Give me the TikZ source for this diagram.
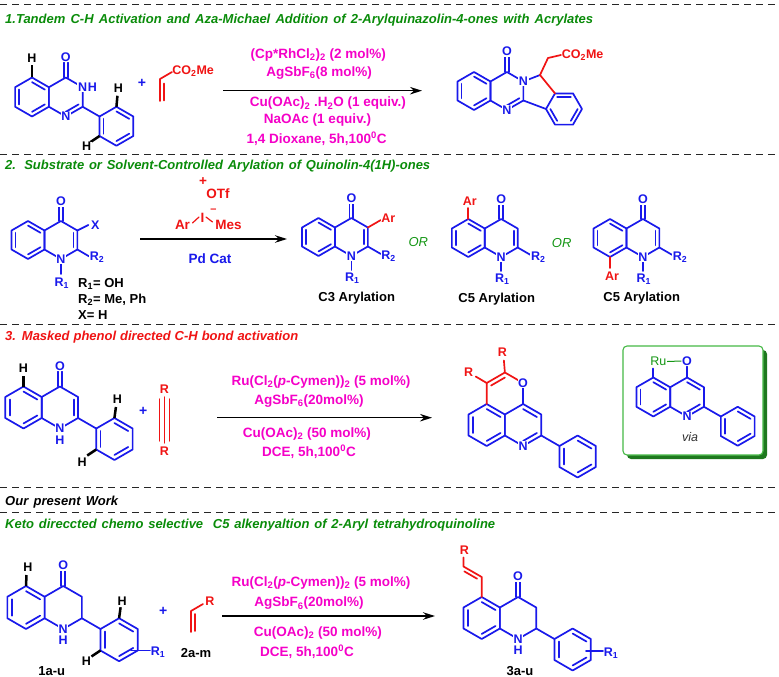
\documentclass[tikz,border=0pt]{standalone}
\usepackage{fontspec}
\setmainfont{Liberation Sans}
\usetikzlibrary{calc,arrows.meta}
\definecolor{chb}{RGB}{25,25,235}
\definecolor{chr}{RGB}{240,20,20}
\definecolor{chm}{RGB}{245,0,200}
\definecolor{hg}{RGB}{10,140,10}
\definecolor{org}{RGB}{20,150,20}
\definecolor{boxg}{RGB}{70,185,70}
\definecolor{shadg}{RGB}{30,120,30}
\newcommand\hexP[4]{%
 \coordinate (#1) at (#2,#3);
 \coordinate (#1T) at (#2,{#3-#4});
 \coordinate (#1UR) at ({#2+0.8660254*#4},{#3-0.5*#4});
 \coordinate (#1LR) at ({#2+0.8660254*#4},{#3+0.5*#4});
 \coordinate (#1B) at (#2,{#3+#4});
 \coordinate (#1LL) at ({#2-0.8660254*#4},{#3+0.5*#4});
 \coordinate (#1UL) at ({#2-0.8660254*#4},{#3-0.5*#4});}
\newcommand\hexdraw[1]{\draw[bnd] (#1T)--(#1UR)--(#1LR)--(#1B)--(#1LL)--(#1UL)--cycle;}
\newcommand\inb[4][bnd]{\draw[#1] ($(#2)!0.76!(#2#3)$)--($(#2)!0.76!(#2#4)$);}
\newcommand\cdo[2]{\draw[bnd] ($(#1)+(-1.9,0)$)--++(0,-#2); \draw[bnd] ($(#1)+(1.9,0)$)--++(0,-#2);}
\newcommand\hdtext[2]{\makebox[#1][s]{#2}}
\begin{document}
\begin{tikzpicture}[x=1pt,y=-1pt,
  bnd/.style={line width=1.7pt, draw=chb, line join=round, line cap=round},
  rbnd/.style={bnd, draw=chr},
  hbnd/.style={line width=2.5pt, draw=black},
  atom/.style={text=chb, fill=white, inner sep=0.7pt, font=\bfseries\fontsize{12.5}{13}\selectfont},
  ratom/.style={atom, text=chr},
  hatom/.style={atom, text=black},
  iodtxt/.style={text=chr, inner sep=0pt, font=\bfseries\fontsize{13.5}{14}\selectfont},
  reag/.style={text=chm, inner sep=0pt, font=\bfseries\fontsize{13.5}{14}\selectfont},
  headtxt/.style={anchor=west, inner sep=0pt, font=\bfseries\itshape\fontsize{13}{14}\selectfont},
  captxt/.style={inner sep=0pt, font=\bfseries\fontsize{13}{14}\selectfont},
  ortxt/.style={text=org, inner sep=0pt, font=\itshape\fontsize{13}{14}\selectfont},
  plus/.style={text=chb, inner sep=0pt, font=\bfseries\fontsize{14}{14}\selectfont},
  dashline/.style={line width=0.9pt, draw=black!85, dash pattern=on 6.5pt off 5.5pt},
  arr/.style={line width=1.3pt, -{Stealth[length=12pt,width=7.5pt]}}
]
\useasboundingbox (0,0) rectangle (779,677);
\fill[white] (0,0) rectangle (779,677);
% dashed separators
\draw[dashline] (0,4)--(779,4);
\draw[dashline] (0,154)--(779,154);
\draw[dashline] (0,324)--(779,324);
\draw[dashline] (0,487)--(779,487);
\draw[dashline] (0,512)--(779,512);
% headings
\node[headtxt, text=hg] (hd1) at (5,20) {\hdtext{588pt}{1.Tandem C-H Activation and Aza-Michael Addition of 2-Arylquinazolin-4-ones with Acrylates}};
\node[headtxt, text=hg] (hd2) at (5,166) {\hdtext{425pt}{2. Substrate or Solvent-Controlled Arylation of Quinolin-4(1H)-ones}};
\node[headtxt, text=chr] (hd3) at (5,337) {\hdtext{293pt}{3. Masked phenol directed C-H bond activation}};
\node[headtxt, text=black] (hd4) at (5,502) {\hdtext{113pt}{Our present Work}};
\node[headtxt, text=hg] (hd5) at (5,525) {\hdtext{490pt}{Keto direccted chemo selective \ C5 alkenyaltion of 2-Aryl tetrahydroquinoline}};

% ===== Section 1 reactant
\hexP{qa}{32}{97}{19.5}
\hexP{qb}{65.77}{97}{19.5}
\hexP{qc}{116.43}{126.25}{19.5}
\hexdraw{qa}\hexdraw{qb}\hexdraw{qc}
\inb{qa}{UL}{LL}\inb{qa}{T}{UR}\inb{qa}{LR}{B}
\inb{qb}{LR}{B}
\inb{qc}{UL}{LL}\inb{qc}{T}{UR}\inb{qc}{LR}{B}
\draw[bnd] (qbLR)--(qcUL);
\cdo{qbT}{15}
\draw[hbnd] (qaT)--++(0,-12);
\draw[hbnd] (qcT)--++(1,-11);
\draw[hbnd] (qcLL)--++(-9,6);
\node[atom] (o1) at ($(qbT)+(0,-20.5)$) {O};
\node[atom] (n1) at (qbUR) {N};
\node[atom, anchor=west, inner sep=0.3pt] (n1h) at ([xshift=-0.6pt]n1.east) {H};
\node[atom] (n2) at (qbB) {N};
\node[hatom] (h1) at ($(qaT)+(0,-19.5)$) {H};
\node[hatom] (h2) at ($(qcT)+(2,-18.5)$) {H};
\node[hatom] (h3) at ($(qcLL)+(-13,10.5)$) {H};
\node[plus] (p1) at (142,83) {+};
% acrylate
\coordinate (acA) at (160,101); \coordinate (acB) at (160,79); \coordinate (acC) at (172,72);
\draw[rbnd] (acA)--(acB)--(acC);
\draw[rbnd] (164,100.5)--(164,83.5);
\node[ratom, anchor=west, fill=none] (co1) at (171.5,71) {CO\textsubscript{2}Me};
% conditions 1
\node[reag] (r1a) at (318.3,55) {(Cp*RhCl\textsubscript{2})\textsubscript{2} (2 mol\%)};
\node[reag] (r1b) at (319.2,73.3) {AgSbF\textsubscript{6}(8 mol\%)};
\coordinate (a1s) at (223,90.7); \coordinate (a1e) at (422,90.7);
\draw[arr] (a1s)--(a1e);
\node[reag] (r1c) at (327.8,103.5) {Cu(OAc)\textsubscript{2} .H\textsubscript{2}O (1 equiv.)};
\node[reag] (r1d) at (317.5,120.5) {NaOAc (1 equiv.)};
\node[reag] (r1e) at (316.7,138.5) {1,4 Dioxane, 5h,100\textsuperscript{0}C};
% product 1
\hexP{pa}{474}{91}{19}
\hexP{pb}{506.91}{91}{19}
\hexdraw{pa}\hexdraw{pb}
\coordinate (pc) at (564,109);
\coordinate (pc1) at (555,93.4); \coordinate (pc2) at (573,93.4); \coordinate (pc3) at (582,109);
\coordinate (pc4) at (573,124.6); \coordinate (pc5) at (555,124.6); \coordinate (pc6) at (546,109);
\draw[bnd] (pc1)--(pc2)--(pc3)--(pc4)--(pc5)--(pc6)--cycle;
\inb{pa}{UL}{LL}\inb{pa}{T}{UR}\inb{pa}{LR}{B}
\inb{pb}{LR}{B}
\inb{pc}{1}{2}\inb{pc}{3}{4}\inb{pc}{5}{6}
\coordinate (pch) at (540,75); \coordinate (pch2) at (548,58);
\draw[bnd] (pbUR)--(pch);
\draw[bnd] (pbLR)--(pc6);
\draw[rbnd] (pch)--(pc1);
\cdo{pbT}{15}
\node[ratom, anchor=west, fill=none] (co2) at (561,55) {CO\textsubscript{2}Me};
\draw[rbnd] (pch)--(pch2)--(co2.west);
\node[atom] (o2) at ($(pbT)+(0,-20.5)$) {O};
\node[atom] (n3) at (pbUR) {N};
\node[atom] (n4) at (pbB) {N};

% ===== Section 2 reactant
\hexP{sa}{28}{240}{19}
\hexP{sb}{60.91}{240}{19}
\hexdraw{sa}\hexdraw{sb}
\inb{sa}{UL}{LL}\inb{sa}{T}{UR}\inb{sa}{LR}{B}
\inb{sb}{UR}{LR}
\cdo{sbT}{15}
\draw[bnd] (sbUR)--++(11,-5.5);
\draw[bnd] (sbLR)--++(12,7);
\draw[bnd] (sbB)--++(0,15);
\node[atom] (o3) at ($(sbT)+(0,-19.5)$) {O};
\node[atom] (x1) at ($(sbUR)+(18,-5.5)$) {X};
\node[atom, anchor=west] (r21) at ($(sbLR)+(11.5,8)$) {R\textsubscript{2}};
\node[atom] (n5) at (sbB) {N};
\node[atom] (r11) at ($(sbB)+(1,24)$) {R\textsubscript{1}};
\node[captxt, anchor=west] (t21) at (78,284) {R\textsubscript{1}= OH};
\node[captxt, anchor=west] (t22) at (78,300) {R\textsubscript{2}= Me, Ph};
\node[captxt, anchor=west] (t23) at (78,315.5) {X= H};
% reagent 2
\node[iodtxt] (ar1) at (182.5,225) {Ar};
\node[iodtxt] (io1) at (202.5,218) {I};
\node[iodtxt] (me1) at (228.5,225) {Mes};
\node[iodtxt] (ot1) at (218,194) {OTf};
\node[iodtxt] (pl2) at (203,181.5) {+};
\node[iodtxt, font=\bfseries\fontsize{11}{11}\selectfont] (mi2) at (213.5,211) {--};
\draw[rbnd, line width=1.2pt] (192.5,223)--(199,217);
\draw[rbnd, line width=1.2pt] (206,217)--(212.5,222);
\coordinate (a2s) at (140,239); \coordinate (a2e) at (287,239);
\draw[arr] (a2s)--(a2e);
\node[reag, text=chb] (pd) at (210,258.5) {Pd Cat};
% C3 product
\hexP{ta}{318.5}{237}{19}
\hexP{tb}{351.41}{237}{19}
\hexdraw{ta}\hexdraw{tb}
\inb{ta}{UL}{LL}\inb{ta}{T}{UR}\inb{ta}{LR}{B}
\inb{tb}{UR}{LR}
\cdo{tbT}{15}
\draw[rbnd] (tbUR)--++(13,-7.5);
\draw[bnd] (tbLR)--++(13,7.5);
\draw[bnd] (tbB)--++(0,14);
\node[atom] (o4) at ($(tbT)+(0,-19.5)$) {O};
\node[ratom, anchor=west] (ar2) at ($(tbUR)+(12.5,-9)$) {Ar};
\node[atom, anchor=west] (r22) at ($(tbLR)+(12.5,9.5)$) {R\textsubscript{2}};
\node[atom] (n6) at (tbB) {N};
\node[atom] (r12) at ($(tbB)+(1,22.5)$) {R\textsubscript{1}};
\node[captxt] (c3) at (356.7,298.3) {C3 Arylation};
\node[ortxt] (or1) at (418.3,241.7) {OR};
% C5 product
\hexP{ua}{468.3}{238}{19}
\hexP{ub}{501.21}{238}{19}
\hexdraw{ua}\hexdraw{ub}
\inb{ua}{UL}{LL}\inb{ua}{T}{UR}\inb{ua}{LR}{B}
\inb{ub}{UR}{LR}
\cdo{ubT}{15}
\draw[rbnd] (uaT)--++(0,-11);
\draw[bnd] (ubLR)--++(13,7.5);
\draw[bnd] (ubB)--++(0,14);
\node[atom] (o5) at ($(ubT)+(0,-19.5)$) {O};
\node[ratom] (ar3) at ($(uaT)+(1.5,-18)$) {Ar};
\node[atom, anchor=west] (r23) at ($(ubLR)+(12.5,9.5)$) {R\textsubscript{2}};
\node[atom] (n7) at (ubB) {N};
\node[atom] (r13) at ($(ubB)+(1,22.5)$) {R\textsubscript{1}};
\node[captxt] (c5a) at (496.7,299.3) {C5 Arylation};
\node[ortxt] (or2) at (561.7,242.7) {OR};
% C8 product
\hexP{va}{610}{238}{19}
\hexP{vb}{642.91}{238}{19}
\hexdraw{va}\hexdraw{vb}
\inb{va}{UL}{LL}\inb{va}{T}{UR}\inb{va}{LR}{B}
\inb{vb}{UR}{LR}
\cdo{vbT}{15}
\draw[rbnd] (vaB)--++(0,11);
\draw[bnd] (vbLR)--++(13,7.5);
\draw[bnd] (vbB)--++(0,14);
\node[atom] (o6) at ($(vbT)+(0,-19.5)$) {O};
\node[ratom] (ar4) at ($(vaB)+(2,19)$) {Ar};
\node[atom, anchor=west] (r24) at ($(vbLR)+(12.5,9.5)$) {R\textsubscript{2}};
\node[atom] (n8) at (vbB) {N};
\node[atom] (r14) at ($(vbB)+(1,22.5)$) {R\textsubscript{1}};
\node[captxt] (c5b) at (641.7,298.3) {C5 Arylation};

% ===== Section 3 reactant
\hexP{wa}{23.5}{407.5}{21}
\hexP{wb}{59.87}{407.5}{21}
\hexP{wc}{114.43}{439}{21}
\hexdraw{wa}\hexdraw{wb}\hexdraw{wc}
\inb{wa}{UL}{LL}\inb{wa}{T}{UR}\inb{wa}{LR}{B}
\inb{wb}{UR}{LR}
\inb{wc}{UL}{LL}\inb{wc}{T}{UR}\inb{wc}{LR}{B}
\draw[bnd] (wbLR)--(wcUL);
\cdo{wbT}{15}
\draw[hbnd] (waT)--++(0,-11);
\draw[hbnd] (wcT)--++(1.5,-11);
\draw[hbnd] (wcLL)--++(-9,6);
\node[atom] (o7) at ($(wbT)+(0,-20.5)$) {O};
\node[atom] (n9) at (wbB) {N};
\node[atom] (n9h) at ($(wbB)+(0,11.5)$) {H};
\node[hatom] (h4) at ($(waT)+(0,-18.5)$) {H};
\node[hatom] (h5) at ($(wcT)+(3,-18.5)$) {H};
\node[hatom] (h6) at ($(wcLL)+(-14,13)$) {H};
\node[plus] (p3) at (143.3,411.7) {+};
\draw[rbnd, line width=1.4pt] (164.3,397)--(164.3,443);
\draw[rbnd, line width=1.4pt] (159.3,399)--(159.3,441);
\draw[rbnd, line width=1.4pt] (169.3,399)--(169.3,441);
\node[ratom] (rt1) at (164.3,389) {R};
\node[ratom] (rb1) at (164.3,451.5) {R};
% conditions 3
\node[reag] (r3a) at (321,381.7) {Ru(Cl\textsubscript{2}(\textit{p}-Cymen))\textsubscript{2} (5 mol\%)};
\node[reag] (r3b) at (309,401.2) {AgSbF\textsubscript{6}(20mol\%)};
\coordinate (a3s) at (217,417.7); \coordinate (a3e) at (432,417.7);
\draw[arr] (a3s)--(a3e);
\node[reag] (r3c) at (307,433.8) {Cu(OAc)\textsubscript{2} (50 mol\%)};
\node[reag] (r3d) at (309,452) {DCE, 5h,100\textsuperscript{0}C};
% product 3
\hexP{xa}{486.7}{425}{21}
\hexP{xb}{523.07}{425}{21}
\hexP{xp}{504.89}{393.5}{21}
\hexP{xc}{577.63}{456.5}{21}
\hexdraw{xa}\hexdraw{xb}\hexdraw{xc}
\inb{xa}{UL}{LL}\inb{xa}{T}{UR}\inb{xa}{LR}{B}
\inb{xb}{T}{UR}\inb{xb}{LR}{B}
\inb{xc}{UL}{LL}\inb{xc}{T}{UR}\inb{xc}{LR}{B}
\draw[bnd] (xbLR)--(xcUL);
\draw[rbnd] (xpLL)--(xpUL)--(xpT)--(xpUR);
\inb[rbnd]{xp}{UL}{T}
\draw[bnd] (xpUR)--(xpLR);
\draw[rbnd] (xpT)--++(-1,-12);
\draw[rbnd] (xpUL)--++(-11,-6.5);
\node[ratom] (rt2) at ($(xpT)+(-2.5,-20)$) {R};
\node[ratom] (rl2) at ($(xpUL)+(-18,-11)$) {R};
\node[atom] (o8) at (xpUR) {O};
\node[atom] (n10) at (xbB) {N};
% via box
\fill[shadg, rounded corners=4pt] (627,350) rectangle (767,459);
\draw[boxg, line width=1.1pt, fill=white, rounded corners=4pt] (623,346) rectangle (763,455);
\hexP{ya}{653.3}{397}{19.5}
\hexP{yb}{687.07}{397}{19.5}
\hexP{yc}{737.73}{426.25}{19.5}
\hexdraw{ya}\hexdraw{yb}\hexdraw{yc}
\inb{ya}{UL}{LL}\inb{ya}{T}{UR}\inb{ya}{LR}{B}
\inb{yb}{T}{UR}\inb{yb}{LR}{B}
\inb{yc}{UL}{LL}\inb{yc}{T}{UR}\inb{yc}{LR}{B}
\draw[bnd] (ybLR)--(ycUL);
\draw[bnd] (ybT)--++(0,-11);
\draw[bnd] (yaT)--++(0,-9);
\node[atom] (o9) at ($(ybT)+(0,-16.5)$) {O};
\node[atom, text=org, font=\fontsize{12.5}{13}\selectfont] (ru) at ($(yaT)+(5,-16)$) {Ru};
\draw[draw=org, line width=1pt] (ru.east)--(o9.west);
\node[atom] (n11) at (ybB) {N};
\node[inner sep=0pt, text=black!80, font=\itshape\fontsize{12.5}{13}\selectfont] (via) at (690,437) {via};

% ===== Section 4 reactant
\hexP{za}{26}{607.5}{21.5}
\hexP{zb}{63.24}{607.5}{21.5}
\hexP{zc}{119.1}{639.75}{21.5}
\hexdraw{za}\hexdraw{zb}\hexdraw{zc}
\inb{za}{UL}{LL}\inb{za}{T}{UR}\inb{za}{LR}{B}
\inb{zc}{UL}{LL}\inb{zc}{T}{UR}\inb{zc}{LR}{B}
\draw[bnd] (zbLR)--(zcUL);
\cdo{zbT}{15}
\draw[hbnd] (zaT)--++(0.5,-11);
\draw[hbnd] (zcT)--++(1.5,-11);
\draw[hbnd] (zcLL)--++(-9,6);
\draw[bnd] (131,650.5)--(150,650.5);
\node[atom] (o10) at ($(zbT)+(0,-20.5)$) {O};
\node[atom] (n12) at (zbB) {N};
\node[atom] (n12h) at ($(zbB)+(0,11.5)$) {H};
\node[hatom] (h7) at ($(zaT)+(2,-18.5)$) {H};
\node[hatom] (h8) at ($(zcT)+(3,-17.5)$) {H};
\node[hatom] (h9) at ($(zcLL)+(-14,11)$) {H};
\node[atom, anchor=west, fill=none] (r15) at (150,652.5) {R\textsubscript{1}};
\node[captxt] (l1) at (51.7,671) {1a-u};
\node[plus] (p4) at (163.3,611.7) {+};
\draw[rbnd] (191,632)--(191,611)--(203,604);
\draw[rbnd] (195,631)--(195,614);
\node[ratom, fill=none] (ra) at (210,601.5) {R};
\node[captxt] (l2) at (196,653) {2a-m};
% conditions 4
\node[reag] (r4a) at (321,583.3) {Ru(Cl\textsubscript{2}(\textit{p}-Cymen))\textsubscript{2} (5 mol\%)};
\node[reag] (r4b) at (309,603.5) {AgSbF\textsubscript{6}(20mol\%)};
\coordinate (a4s) at (222,616); \coordinate (a4e) at (435,616);
\draw[arr] (a4s)--(a4e);
\node[reag] (r4c) at (318,633) {Cu(OAc)\textsubscript{2} (50 mol\%)};
\node[reag] (r4d) at (307,652) {DCE, 5h,100\textsuperscript{0}C};
% product 4
\hexP{ka}{481.7}{618}{21}
\hexP{kb}{518.07}{618}{21}
\hexP{kc}{572.63}{649.5}{21}
\hexdraw{ka}\hexdraw{kb}\hexdraw{kc}
\inb{ka}{UL}{LL}\inb{ka}{T}{UR}\inb{ka}{LR}{B}
\inb{kc}{UL}{LL}\inb{kc}{T}{UR}\inb{kc}{LR}{B}
\draw[bnd] (kbLR)--(kcUL);
\cdo{kbT}{15}
\coordinate (kv1) at (481.7,577); \coordinate (kv2) at (463.5,566.5);
\draw[rbnd] (kaT)--(kv1)--(kv2)--++(0,-9);
\draw[rbnd] ($(kv1)!0.15!(kv2)+(-1.9,3.3)$)--($(kv1)!0.85!(kv2)+(-1.9,3.3)$);
\draw[bnd] (586,651)--(603,651);
\node[ratom, fill=none] (rk) at ($(kv2)+(1,-16.5)$) {R};
\node[atom] (o11) at ($(kbT)+(0,-20.5)$) {O};
\node[atom] (n13) at (kbB) {N};
\node[atom] (n13h) at ($(kbB)+(0,11.5)$) {H};
\node[atom, anchor=west, fill=none] (r16) at (603,653) {R\textsubscript{1}};
\node[captxt] (l3) at (520,670.7) {3a-u};
\end{tikzpicture}
\end{document}
